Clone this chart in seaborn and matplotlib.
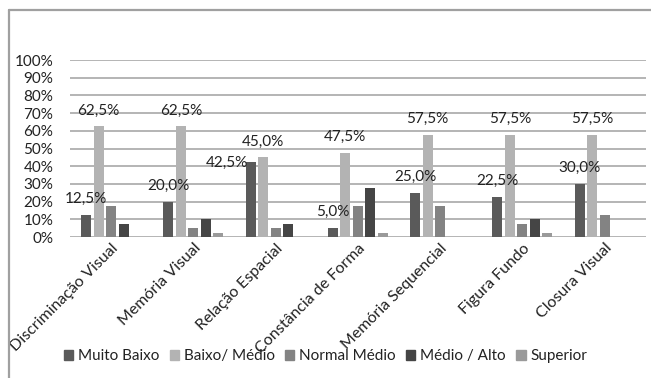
import pandas as pd
import seaborn as sns
import matplotlib.pyplot as plt
from matplotlib.lines import Line2D

# chart data (percent)
categories = ['Discriminação Visual', 'Memória Visual', 'Relação Espacial',
              'Constância de Forma', 'Memória Sequencial', 'Figura Fundo', 'Closura Visual']
levels = ['Muito Baixo', 'Baixo/ Médio', 'Normal Médio', 'Médio / Alto', 'Superior']
muito_baixo = [12.5, 20.0, 42.5, 5.0, 25.0, 22.5, 30.0]
baixo_medio = [62.5, 62.5, 45.0, 47.5, 57.5, 57.5, 57.5]
normal_medio = [17.5, 5.0, 5.0, 17.5, 17.5, 7.5, 12.5]
medio_alto = [7.5, 10.0, 7.5, 27.5, 0.0, 10.0, 0.0]
superior = [0.0, 2.5, 0.0, 2.5, 0.0, 2.5, 0.0]
y_ticks = [0, 10, 20, 30, 40, 50, 60, 70, 80, 90, 100]

colors = ['#5a5a5a', '#b3b3b3', '#838383', '#454545', '#9a9a9a']

rows = []
for lvl, vals in zip(levels, [muito_baixo, baixo_medio, normal_medio, medio_alto, superior]):
    for cat, v in zip(categories, vals):
        rows.append({'categoria': cat, 'nivel': lvl, 'valor': v})
df = pd.DataFrame(rows)

sns.set_style('white')
plt.rcParams['font.family'] = ['Lato', 'DejaVu Sans']

fig = plt.figure(figsize=(6.51, 3.78), dpi=100)
ax = fig.add_axes([0.1075, 0.373, 0.8845, 0.468])

sns.barplot(data=df, x='categoria', y='valor', hue='nivel', order=categories,
            hue_order=levels, palette=colors, width=0.76, gap=0.2,
            linewidth=0, legend=False, ax=ax)

ax.set_ylim(0, 100)
ax.set_yticks(y_ticks)
ax.set_yticklabels([f'{t}%' for t in y_ticks], fontsize=11, color='#222222')
ax.yaxis.grid(True, color='#a8a8a8', linewidth=1.2)
ax.set_axisbelow(True)
for s in ax.spines.values():
    s.set_visible(False)
ax.tick_params(axis='both', length=0)
ax.tick_params(axis='y', pad=12)
ax.set_xlabel('')
ax.set_ylabel('')
ax.set_xticks(range(len(categories)))
ax.set_xticklabels(categories, rotation=45, ha='right', rotation_mode='anchor',
                   fontsize=11.5, color='#222222')
ax.tick_params(axis='x', pad=3)

# data labels for the first two series only
shifts = {(0, 2): (-17, -12)}
for si in range(2):
    for ci, bar in enumerate(ax.containers[si]):
        h = bar.get_height()
        dx, dy = shifts.get((si, ci), (0, 0))
        ax.annotate(f'{h:.1f}'.replace('.', ',') + '%',
                    (bar.get_x() + bar.get_width() / 2, h),
                    xytext=(dx, 11.5 + dy), textcoords='offset points',
                    ha='center', va='center', fontsize=11, color='#222222')

handles = [plt.Rectangle((0, 0), 1, 1, color=c) for c in colors]
fig.legend(handles, levels, loc='center', bbox_to_anchor=(0.5, 0.058), ncol=5,
           frameon=False, fontsize=11, handlelength=0.6, handleheight=0.6,
           handletextpad=0.3, columnspacing=0.7, labelcolor='#222222')

# outer chart border (left and top)
fig.add_artist(Line2D([0.014, 0.014], [0.0, 0.974], color='#a0a0a0', linewidth=1.6))
fig.add_artist(Line2D([0.014, 1.0], [0.974, 0.974], color='#a0a0a0', linewidth=1.6))

plt.savefig('out.png', dpi=100)
